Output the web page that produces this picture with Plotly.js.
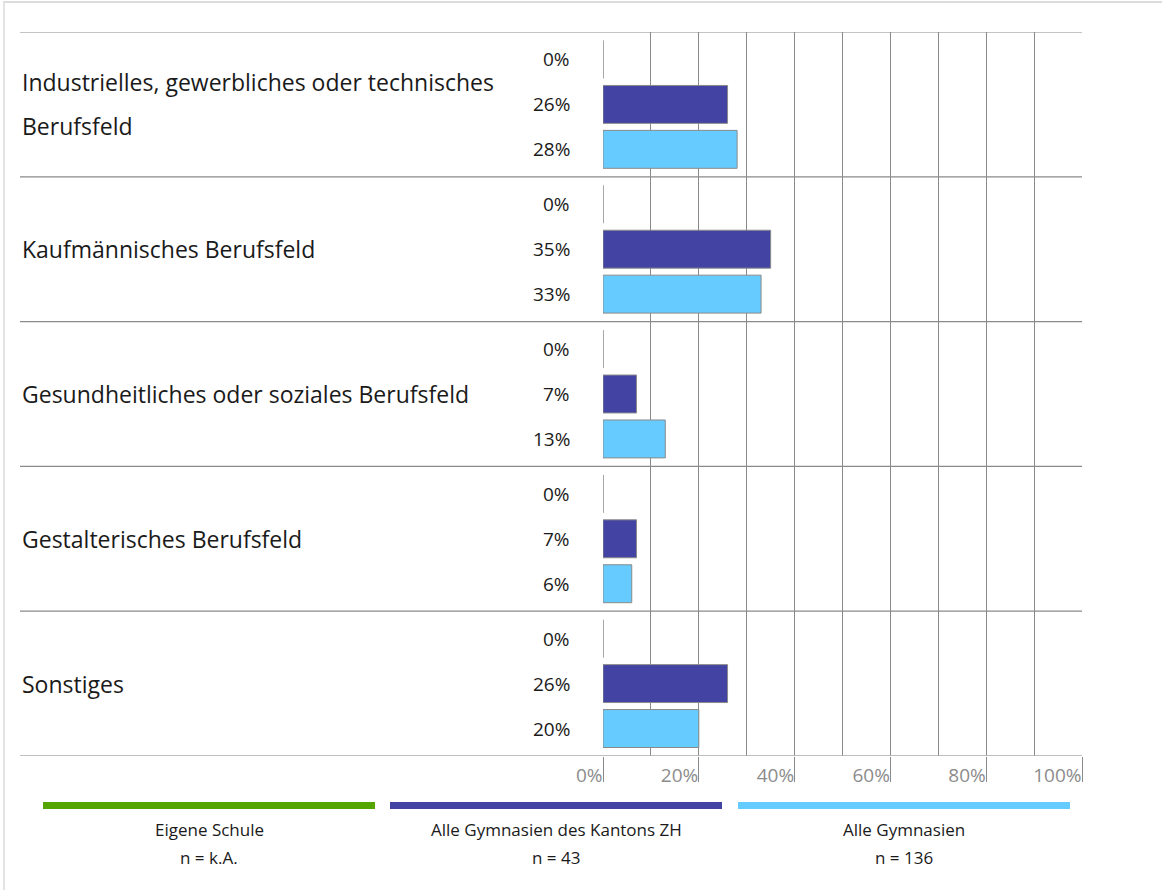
<!DOCTYPE html>
<html>
<head>
<meta charset="utf-8">
<script src="https://cdn.plot.ly/plotly-3.0.1.min.js"></script>
<style>
  html, body { margin: 0; padding: 0; background: #fff; }
  #frame { position: absolute; left: 3px; top: 1px; width: 1159px; height: 889px; box-sizing: border-box;
           border-top: 2px solid #dcdcdc; border-left: 2px solid #e4e4e4; }
  #chart { position: absolute; left: 0; top: 0; width: 1162px; height: 890px; }
</style>
</head>
<body>
<div id="frame"></div>
<div id="chart"></div>
<script>
// ---- data ----
const categories = [
  "Industrielles, gewerbliches oder technisches<br>Berufsfeld",
  "Kaufmännisches Berufsfeld",
  "Gesundheitliches oder soziales Berufsfeld",
  "Gestalterisches Berufsfeld",
  "Sonstiges"
];
const eigeneSchule  = [0, 0, 0, 0, 0];
const kantonZH      = [26, 35, 7, 7, 26];
const alleGymnasien = [28, 33, 13, 6, 20];
const seriesNames = ["Eigene Schule", "Alle Gymnasien des Kantons ZH", "Alle Gymnasien"];
const seriesN     = ["n = k.A.", "n = 43", "n = 136"];
const seriesColors = ["#55A500", "#4343A3", "#66CCFF"];
const xTickVals = [0, 20, 40, 60, 80, 100];
const xTickText = ["0%", "20%", "40%", "60%", "80%", "100%"];

// ---- layout geometry ----
const W = 1162, H = 890;
const M = { l: 603, r: 80, t: 32, b: 134 };
const plotW = W - M.l - M.r, plotH = H - M.t - M.b;
const BARGAP = 0.069, GROUPGAP = 0.156;
const FONT = "'Open Sans', Roboto, sans-serif";

const px2x = px => (px - M.l) / plotW;           // pixel -> paper x
const px2y = py => (H - M.b - py) / plotH;       // pixel -> paper y

const seriesValues = [eigeneSchule, kantonZH, alleGymnasien];
const traces = seriesValues.map((vals, k) => ({
  type: "bar",
  orientation: "h",
  name: seriesNames[k],
  x: vals,
  y: categories,
  marker: { color: seriesColors[k], line: { color: "#8a8a8a", width: 1 } },
  hoverinfo: "skip",
  showlegend: false
}));

const bandPx = plotH / categories.length;
const slotPx = bandPx * (1 - BARGAP) / seriesValues.length;

const annotations = [];
const shapes = [];

// value labels left of the axis
seriesValues.forEach((vals, k) => {
  vals.forEach((v, i) => {
    annotations.push({
      xref: "paper", yref: "y", x: 0, y: categories[i],
      xanchor: "right", yanchor: "middle", xshift: -31,
      yshift: (1 - k) * slotPx,
      text: v + "%", showarrow: false,
      font: { family: FONT, size: 19, color: "#1a1a1a" }
    });
  });
});

// category labels (left aligned)
categories.forEach((c, i) => {
  const lines = c.split("<br>");
  const lineGap = 44;
  lines.forEach((ln, j) => {
    annotations.push({
      xref: "paper", yref: "y", x: px2x(20), y: c,
      xanchor: "left", yanchor: "middle",
      yshift: ((lines.length - 1) / 2 - j) * lineGap,
      text: ln, showarrow: false,
      font: { family: FONT, size: 23, color: "#1a1a1a" }
    });
  });
});

// horizontal separators
for (let i = 0; i <= categories.length; i++) {
  shapes.push({
    type: "line", xref: "paper", yref: "y",
    x0: px2x(20), x1: 1, y0: i - 0.5, y1: i - 0.5,
    line: { color: i === categories.length ? "#aaaaaa" : "#8a8a8a", width: i === categories.length ? 1.5 : 1.2 },
    layer: "above"
  });
}

// custom legend
const legX = [[43, 375], [390, 722], [738, 1070]];
seriesNames.forEach((n, k) => {
  shapes.push({
    type: "rect", xref: "paper", yref: "paper",
    x0: px2x(legX[k][0]), x1: px2x(legX[k][1]),
    y0: px2y(809), y1: px2y(802),
    fillcolor: seriesColors[k], line: { width: 0 }
  });
  const cx = px2x((legX[k][0] + legX[k][1]) / 2);
  annotations.push({
    xref: "paper", yref: "paper", x: cx, y: px2y(829),
    xanchor: "center", yanchor: "middle", text: n, showarrow: false,
    font: { family: FONT, size: 17, color: "#1a1a1a" }
  });
  annotations.push({
    xref: "paper", yref: "paper", x: cx, y: px2y(857),
    xanchor: "center", yanchor: "middle", text: seriesN[k], showarrow: false,
    font: { family: FONT, size: 17, color: "#1a1a1a" }
  });
});

const layout = {
  width: W, height: H,
  margin: M,
  paper_bgcolor: "rgba(0,0,0,0)",
  plot_bgcolor: "rgba(0,0,0,0)",
  barmode: "group",
  bargap: BARGAP,
  bargroupgap: GROUPGAP,
  showlegend: false,
  xaxis: {
    range: [0, 100],
    tickvals: xTickVals, ticktext: xTickText,
    ticks: "outside", ticklen: 25, tickcolor: "#8a8a8a", tickwidth: 1,
    ticklabelposition: "outside left",
    ticklabelstandoff: 2,
    tickfont: { family: FONT, size: 19, color: "#8c8c8c" },
    showgrid: true, gridcolor: "#8a8a8a", gridwidth: 1,
    minor: { dtick: 10, showgrid: true, gridcolor: "#8a8a8a", gridwidth: 1 },
    zeroline: false, showline: false, fixedrange: true
  },
  yaxis: {
    type: "category",
    categoryorder: "array", categoryarray: categories,
    range: [categories.length - 0.5, -0.5],
    showticklabels: false, ticks: "", showgrid: false, zeroline: false, showline: false,
    fixedrange: true
  },
  shapes: shapes,
  annotations: annotations,
  font: { family: FONT }
};

Plotly.newPlot("chart", traces, layout, { staticPlot: true, displayModeBar: false });
</script>
</body>
</html>
